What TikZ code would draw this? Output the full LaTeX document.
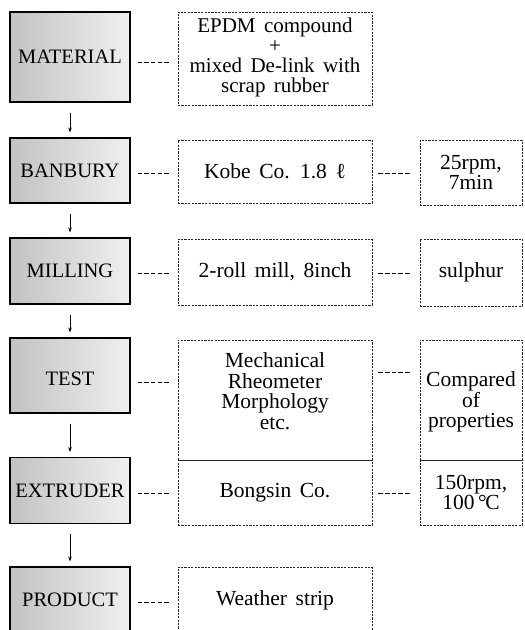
\documentclass[tikz,border=0pt]{standalone}
\usepackage{fontspec}
\setmainfont{Liberation Serif}
\newfontfamily\boxfont{Liberation Serif}[WordSpace=1.6]
\usetikzlibrary{arrows.meta,calc}
\begin{document}
\begin{tikzpicture}[x=1pt,y=-1pt,
 stagebox/.style={draw=black,line width=1.1pt,left color=black!24,right color=black!6,minimum width=120pt,inner sep=0pt,font=\fontsize{20.5}{22}\selectfont},
 infofont/.style={font=\boxfont\fontsize{21.5}{20.5}\selectfont},
 infobox/.style={draw=black!85,line width=0.6pt,dash pattern=on 2.2pt off 1.2pt,inner sep=0pt,align=center,infofont},
 midbox/.style={infobox,minimum width=194pt},
 rightbox/.style={infobox,minimum width=102pt},
 boxtext/.style={inner sep=0pt,align=center,infofont},
 conn/.style={line width=0.9pt,dash pattern=on 4.5pt off 2.2pt},
 flow/.style={line width=0.6pt,-{Stealth[length=5pt,width=3.5pt]},shorten <=10pt,shorten >=5pt}]
\clip (0,0) rectangle (525,630);
\fill[white] (0,0) rectangle (525,630);
% stage boxes
\node[stagebox,minimum height=90pt] (mat) at (70,57) {MATERIAL};
\node[stagebox,minimum height=65pt] (ban) at (70,170.5) {BANBURY};
\node[stagebox,minimum height=66pt] (mil) at (70,271) {MILLING};
\node[stagebox,minimum height=75pt] (tst) at (70,375.5) {};
\node[inner sep=0pt,font=\fontsize{20.5}{22}\selectfont] (tstt) at (70,379) {TEST};
\node[stagebox,minimum height=66pt] (ext) at (70,490.5) {EXTRUDER};
\node[stagebox,minimum height=66pt] (prd) at (70,600) {PRODUCT};
% middle boxes
\node[midbox,minimum height=93pt] (m1) at (275,58.5) {};
\node[boxtext,font=\boxfont\fontsize{21}{20}\selectfont] (m1t) at (275,57) {EPDM compound\\+\\mixed De-link with\\scrap rubber};
\node[midbox,minimum height=63pt] (m2) at (275,171.5) {Kobe Co. 1.8 ℓ};
\node[midbox,minimum height=66pt] (m3) at (275,272) {2-roll mill, 8inch};
\node[midbox,minimum height=120pt] (m4) at (275,400) {};
\node[boxtext] (m4t) at (275,391) {Mechanical\\Rheometer\\Morphology\\etc.};
\node[midbox,minimum height=65pt] (m5) at (275,492.5) {Bongsin Co.};
\node[midbox,minimum height=66pt] (m6) at (275,600) {Weather strip};
% right boxes
\node[rightbox,minimum height=65pt] (r2) at (471,172.5) {25rpm,\\7min};
\node[rightbox,minimum height=67pt] (r3) at (471,272.5) {sulphur};
\node[rightbox,minimum height=120pt] (r4) at (471,400) {};
\node[boxtext] (r4t) at (471,402) {Compared\\of\\properties};
\node[rightbox,minimum height=65pt] (r5) at (471,492.5) {150rpm,\\100\,°\kern-1.5pt C};
% flow arrows
\draw[flow] (mat) -- (ban);
\draw[flow] (ban) -- (mil);
\draw[flow] (mil) -- (tst);
\draw[flow] (tst) -- (ext);
\draw[flow] (ext) -- (prd);
% left connectors
\draw[conn] ($(mat.east)+(7,5)$) -- ($(mat.east -| m1.west)+(-8,5)$);
\draw[conn] ($(ban.east)+(7,2.5)$) -- ($(ban.east -| m2.west)+(-8,2.5)$);
\draw[conn] ($(mil.east)+(7,2)$) -- ($(mil.east -| m3.west)+(-8,2)$);
\draw[conn] ($(tst.east)+(7,6.5)$) -- ($(tst.east -| m4.west)+(-8,6.5)$);
\draw[conn] ($(ext.east)+(7,2.5)$) -- ($(ext.east -| m5.west)+(-8,2.5)$);
\draw[conn] ($(prd.east)+(7,2)$) -- ($(prd.east -| m6.west)+(-8,2)$);
% right connectors
\draw[conn] ($(m2.east)+(6,1.5)$) -- ($(m2.east -| r2.west)+(-8,1.5)$);
\draw[conn] ($(m3.east)+(6,1)$) -- ($(m3.east -| r3.west)+(-8,1)$);
\draw[conn] ($(m4.east)+(6,-28)$) -- ($(m4.east -| r4.west)+(-8,-28)$);
\draw[conn] ($(m5.east)+(6,0.5)$) -- ($(m5.east -| r5.west)+(-8,0.5)$);
\end{tikzpicture}
\end{document}
